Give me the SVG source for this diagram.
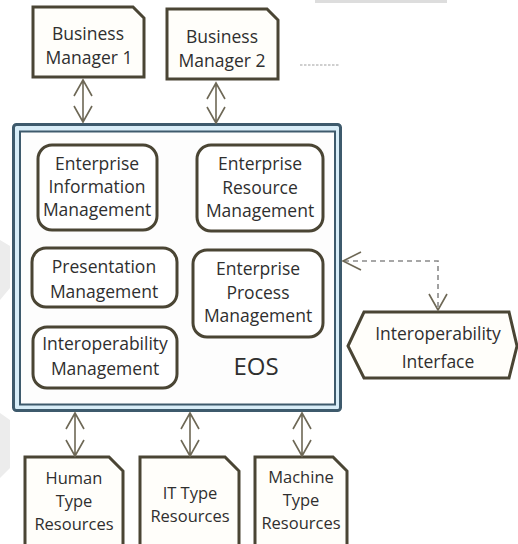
<svg xmlns="http://www.w3.org/2000/svg" width="518" height="544" viewBox="0 0 518 544">
<style>
  .t { font-family: "Open Sans", "Noto Sans", sans-serif; font-size: 17.5px; fill: #2f2f2f; text-anchor: middle; }
  .s { font-size: 16.5px; }
  .doc { fill: #fffefa; stroke: #4a4534; stroke-width: 3; stroke-linejoin: miter; }
  .mod { fill: #ffffff; stroke: #4a4534; stroke-width: 3; }
  .arr { fill: none; stroke: #6e6856; stroke-width: 1.6; }
  .dash { fill: none; stroke: #8a8a8a; stroke-width: 1.6; stroke-dasharray: 5 4; }
</style>
<rect width="518" height="544" fill="#ffffff"/>
<g id="background">
  <rect x="315" y="0" width="132" height="3" fill="#dddddd"/>
  <polygon points="0,240 10,246 10,288 0,300" fill="#ececec"/>
  <polygon points="0,413 10,420 10,468 0,478" fill="#ececec"/>
  <line x1="300" y1="65" x2="340" y2="65" stroke="#a0a0a0" stroke-width="1.2" stroke-dasharray="2.5 1.5"/>
</g>
<g id="eos">
  <rect x="13.5" y="124.5" width="327" height="286" rx="3" fill="#d8edf8" stroke="#3e5a6c" stroke-width="3"/>
  <rect x="20" y="131.5" width="315" height="273" fill="#fdfdfd" stroke="#3e5a6c" stroke-width="2"/>
  <text class="t" x="256" y="375" style="font-size:24px">EOS</text>
</g>
<g id="bm1">
  <path class="doc" d="M33,7 H133 L144,18 V77 H33 Z"/>
  <text class="t" x="88" y="40">Business</text>
  <text class="t" x="89" y="64">Manager 1</text>
</g>
<g id="bm2">
  <path class="doc" d="M167,9 H267 L278,20 V79 H167 Z"/>
  <text class="t" x="222" y="43">Business</text>
  <text class="t" x="222" y="67">Manager 2</text>
</g>
<g id="eim">
  <rect class="mod" x="38" y="145" width="119" height="85" rx="14"/>
  <text class="t" x="97" y="170">Enterprise</text>
  <text class="t" x="97" y="193">Information</text>
  <text class="t" x="97" y="216">Management</text>
</g>
<g id="erm">
  <rect class="mod" x="197" y="145" width="126" height="86" rx="14"/>
  <text class="t" x="260" y="170">Enterprise</text>
  <text class="t" x="260" y="194">Resource</text>
  <text class="t" x="260" y="217">Management</text>
</g>
<g id="pm">
  <rect class="mod" x="32" y="248" width="145" height="59" rx="14"/>
  <text class="t" x="104" y="273">Presentation</text>
  <text class="t" x="104" y="298">Management</text>
</g>
<g id="epm">
  <rect class="mod" x="193" y="250" width="130" height="87" rx="14"/>
  <text class="t" x="258" y="275">Enterprise</text>
  <text class="t" x="258" y="299">Process</text>
  <text class="t" x="258" y="322">Management</text>
</g>
<g id="im">
  <rect class="mod" x="33" y="327" width="144" height="61" rx="14"/>
  <text class="t" x="105" y="350">Interoperability</text>
  <text class="t" x="105" y="375">Management</text>
</g>
<g id="interface">
  <polygon class="doc" points="348,346 364,312 509,312 517,346 509,378 364,378"/>
  <text class="t" x="438" y="340">Interoperability</text>
  <text class="t" x="438" y="368">Interface</text>
</g>
<g id="human">
  <path class="doc" d="M25,457 H109 L123,471 V550 H25 Z"/>
  <text class="t s" x="74" y="484">Human</text>
  <text class="t s" x="74" y="507">Type</text>
  <text class="t s" x="74" y="530">Resources</text>
</g>
<g id="it">
  <path class="doc" d="M140,457 H225 L239,471 V550 H140 Z"/>
  <text class="t s" x="190" y="499">IT Type</text>
  <text class="t s" x="190" y="522">Resources</text>
</g>
<g id="machine">
  <path class="doc" d="M255,457 H333 L347,471 V550 H255 Z"/>
  <text class="t s" x="301" y="483">Machine</text>
  <text class="t s" x="301" y="506">Type</text>
  <text class="t s" x="301" y="529">Resources</text>
</g>
<g id="connectors">
  <path class="arr" d="M83,80 V122 M74,96 L83,80 L92,96 M74,106 L83,122 L92,106"/>
  <path class="arr" d="M216,83 V123 M207,99 L216,83 L225,99 M207,107 L216,123 L225,107"/>
  <path class="arr" d="M75,413 V456 M66,429 L75,413 L84,429 M66,440 L75,456 L84,440"/>
  <path class="arr" d="M190,413 V456 M181,429 L190,413 L199,429 M181,440 L190,456 L199,440"/>
  <path class="arr" d="M302,413 V456 M293,429 L302,413 L311,429 M293,440 L302,456 L311,440"/>
  <path class="dash" d="M344,261 H438 V309"/>
  <path class="arr" d="M361,252 L343,261 L361,270 M429,294 L438,310 L447,294" stroke="#8a8a8a"/>
</g>
</svg>
